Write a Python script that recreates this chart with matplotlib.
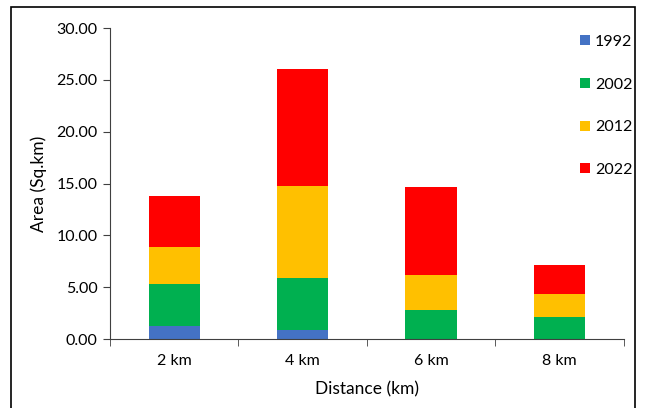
import matplotlib.pyplot as plt
import numpy as np
from matplotlib.patches import Rectangle

# Built-up area per distance band, stacked by year
distances = ['2 km', '4 km', '6 km', '8 km']
years = ['1992', '2002', '2012', '2022']
area_1992 = [1.22, 0.84, 0.00, 0.00]
area_2002 = [4.05, 5.04, 2.77, 2.09]
area_2012 = [3.63, 8.87, 3.43, 2.28]
area_2022 = [4.89, 11.29, 8.52, 2.76]
colors = ['#4472C4', '#00B050', '#FFC000', '#FF0000']

plt.rcParams['font.family'] = ['Lato', 'DejaVu Sans']

fig = plt.figure(figsize=(6.47, 4.08), dpi=100)
ax = fig.add_axes([0.170, 0.169, 0.794, 0.762])

x = np.arange(len(distances))
bottom = np.zeros(len(distances))
for year, vals, c in zip(years, [area_1992, area_2002, area_2012, area_2022], colors):
    ax.bar(x, vals, width=0.4, bottom=bottom, color=c, label=year)
    bottom += np.array(vals)

ax.set_xlim(-0.5, len(distances) - 0.5)
ax.set_ylim(0, 30)
ax.set_yticks(np.arange(0, 31, 5))
ax.set_yticklabels(['{:.2f}'.format(v) for v in np.arange(0, 31, 5)], fontsize=11.5)
ax.set_xticks(x)
ax.set_xticklabels(distances, fontsize=11.5)
ax.set_xticks(np.arange(-0.5, len(distances), 1), minor=True)
ax.tick_params(axis='x', which='major', length=0, pad=11)
ax.tick_params(axis='x', which='minor', length=5, direction='out', color='#404040')
ax.tick_params(axis='y', length=5, color='#404040', pad=4)
for s in ['top', 'right']:
    ax.spines[s].set_visible(False)
for s in ['left', 'bottom']:
    ax.spines[s].set_color('#404040')

ax.set_xlabel('Distance (km)', fontsize=12.5, labelpad=9)
ax.set_ylabel('Area (Sq.km)', fontsize=12.5, labelpad=7)

fig.legend(loc='upper right', bbox_to_anchor=(1.0, 0.95), frameon=False,
           fontsize=11.5, handlelength=0.6, handleheight=0.6, handletextpad=0.35,
           labelspacing=1.8)

# outer frame around the whole chart
fig.patches.append(Rectangle((11 / 647, -0.05), 624 / 647, 1 - 7 / 408 + 0.05,
                             transform=fig.transFigure, fill=False,
                             edgecolor='black', linewidth=1.2))

fig.savefig('out.png', dpi=100)
